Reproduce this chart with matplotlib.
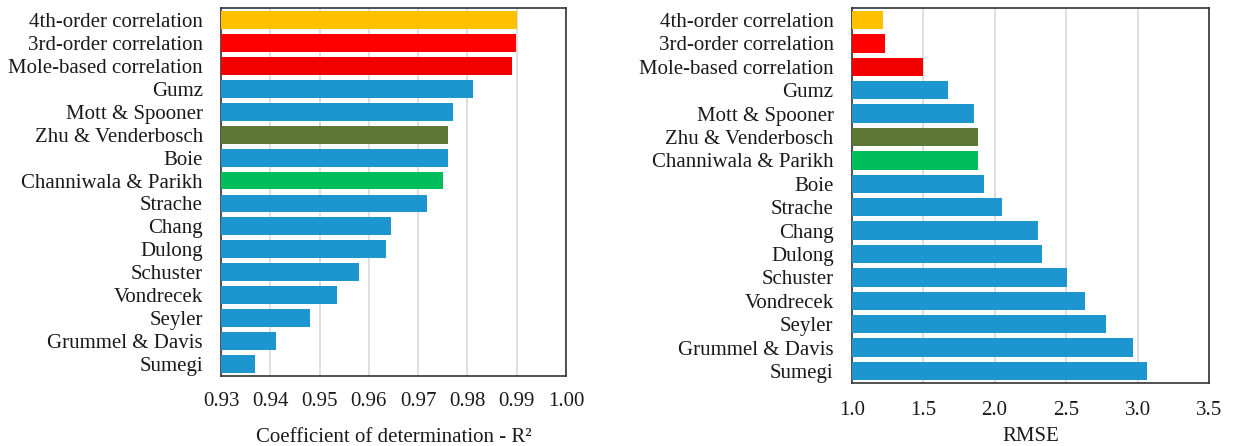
import matplotlib
matplotlib.use("Agg")
import matplotlib.pyplot as plt

plt.rcParams['font.family'] = ['Liberation Serif', 'DejaVu Serif']

# Coefficient of determination per correlation (top to bottom)
r2_names = ['4th-order correlation', '3rd-order correlation', 'Mole-based correlation',
            'Gumz', 'Mott & Spooner', 'Zhu & Venderbosch', 'Boie', 'Channiwala & Parikh',
            'Strache', 'Chang', 'Dulong', 'Schuster', 'Vondrecek', 'Seyler',
            'Grummel & Davis', 'Sumegi']
r2_values = [0.9901, 0.9898, 0.9890, 0.9811, 0.9770, 0.9761, 0.9761, 0.9751,
             0.9718, 0.9645, 0.9635, 0.9580, 0.9536, 0.9481, 0.9411, 0.9368]

# RMSE per correlation (top to bottom)
rmse_names = ['4th-order correlation', '3rd-order correlation', 'Mole-based correlation',
              'Gumz', 'Mott & Spooner', 'Zhu & Venderbosch', 'Channiwala & Parikh', 'Boie',
              'Strache', 'Chang', 'Dulong', 'Schuster', 'Vondrecek', 'Seyler',
              'Grummel & Davis', 'Sumegi']
rmse_values = [1.219, 1.233, 1.496, 1.676, 1.853, 1.885, 1.885, 1.925,
               2.049, 2.301, 2.331, 2.506, 2.632, 2.780, 2.965, 3.067]

BLUE = '#1D96CF'
colors = {'4th-order correlation': '#FFC000',
          '3rd-order correlation': '#FF0000',
          'Mole-based correlation': '#F20000',
          'Zhu & Venderbosch': '#5C7633',
          'Channiwala & Parikh': '#00BD5C'}

fig = plt.figure(figsize=(12.37, 4.46), dpi=100)
ax1 = fig.add_axes([0.1787, 0.1576, 0.2789, 0.8238])
ax2 = fig.add_axes([0.6885, 0.1419, 0.2889, 0.8395])


def draw(ax, names, values, xlim, ticks, ticklabels, xlabel, xpad, labelpad):
    y = list(range(len(names)))
    ax.barh(y, [v - xlim[0] for v in values], left=xlim[0], height=0.78,
            color=[colors.get(n, BLUE) for n in names], zorder=3)
    ax.set_ylim(len(names) - 0.5, -0.5)
    ax.set_xlim(*xlim)
    ax.set_yticks(y)
    ax.set_yticklabels(names, fontsize=15, color='#1a1a1a')
    ax.set_xticks(ticks)
    ax.set_xticklabels(ticklabels, fontsize=15, color='#1a1a1a')
    ax.set_xlabel(xlabel, fontsize=15, color='#1a1a1a', labelpad=labelpad)
    ax.tick_params(axis='y', length=0, pad=13)
    ax.tick_params(axis='x', length=0, pad=xpad)
    ax.grid(axis='x', color='#d9d9d9', linewidth=1.2, zorder=0)
    for s in ax.spines.values():
        s.set_color('#333333')
        s.set_linewidth(1.2)


draw(ax1, r2_names, r2_values, (0.93, 1.00),
     [0.93, 0.94, 0.95, 0.96, 0.97, 0.98, 0.99, 1.00],
     ['0.93', '0.94', '0.95', '0.96', '0.97', '0.98', '0.99', '1.00'],
     'Coefficient of determination - R²', 12, 12)
draw(ax2, rmse_names, rmse_values, (1.0, 3.5),
     [1.0, 1.5, 2.0, 2.5, 3.0, 3.5],
     ['1.0', '1.5', '2.0', '2.5', '3.0', '3.5'],
     'RMSE', 13, 5)

fig.savefig('out.png', dpi=100)
